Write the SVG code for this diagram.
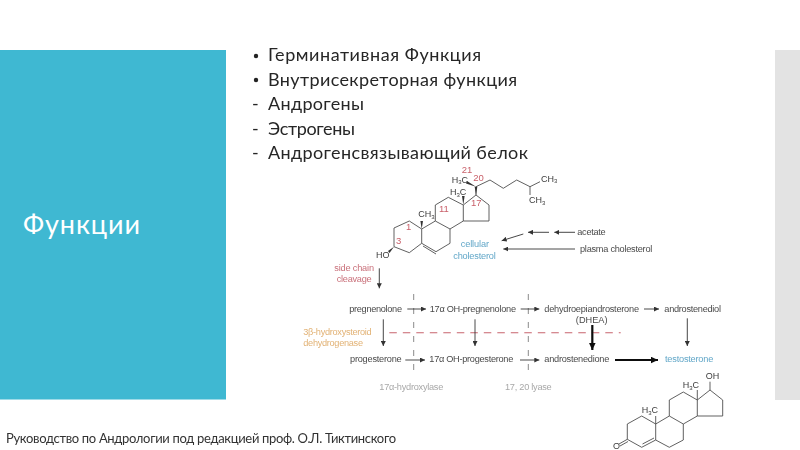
<svg xmlns="http://www.w3.org/2000/svg" width="800" height="450" viewBox="0 0 800 450">
<style>
.ru{font-family:"Lato","Open Sans","Noto Sans",sans-serif;fill:#262626;font-size:18px}
.t{font-family:"Liberation Sans",Arial,sans-serif;font-size:9.2px;fill:#4a4a4a}
.c{font-family:"Liberation Sans",Arial,sans-serif;font-size:9px;fill:#3c3c3c}
.r{font-family:"Liberation Sans",Arial,sans-serif;font-size:9.5px;fill:#c9606a}
.b{fill:#62a7c8}.o{fill:#e2b275}.g{fill:#a8a8a8}.p{fill:#c9707a}
.bond{fill:none;stroke:#4f4f4f;stroke-width:.9;stroke-linejoin:round}
.a{stroke:#333;stroke-width:.9;fill:none;marker-end:url(#ah)}
.A{stroke:#111;stroke-width:2.2;fill:none;marker-end:url(#AH)}
.vd{stroke:#8a8a8a;stroke-width:1;stroke-dasharray:6 8;fill:none}
</style>
<defs>
<marker id="ah" markerUnits="userSpaceOnUse" markerWidth="6" markerHeight="5" refX="5" refY="2.5" orient="auto"><path d="M0 0L5 2.500L0 5z" fill="#333"/></marker>
<marker id="AH" markerUnits="userSpaceOnUse" markerWidth="9" markerHeight="8" refX="7.500" refY="3.500" orient="auto"><path d="M0 0L7.500 3.500L0 7z" fill="#111"/></marker>
<filter id="soft" x="-5%" y="-5%" width="110%" height="110%"><feGaussianBlur stdDeviation=".35"/></filter>
</defs>
<rect width="800" height="450" fill="#fff"/>
<rect x="0" y="50" width="226" height="349.500" fill="#3fb8d2"/>
<rect x="775" y="50" width="25" height="350" fill="#e3e3e3"/>
<text x="23" y="234" textLength="117" style="font-family:Lato,'Open Sans',sans-serif;font-size:27px;fill:#fff">Функции</text>

<g id="bullets" filter="url(#soft)">
<circle cx="256" cy="56" r="2.200" fill="#222"/>
<text class="ru" x="268" y="61" textLength="213">Герминативная Функция</text>
<circle cx="256" cy="80" r="2.200" fill="#222"/>
<text class="ru" x="268" y="85.500" textLength="249">Внутрисекреторная функция</text>
<text class="ru" x="252" y="110">-</text>
<text class="ru" x="268" y="110" textLength="96">Андрогены</text>
<text class="ru" x="252" y="134.500">-</text>
<text class="ru" x="268" y="134.500" textLength="87">Эстрогены</text>
<text class="ru" x="252" y="158.500">-</text>
<text class="ru" x="268" y="158.500" textLength="260">Андрогенсвязывающий белок</text>
</g>

<g filter="url(#soft)">
<g id="cholesterol-molecule">
<path class="bond" d="M394 246.700V228L409.300 221L421.700 229V243.300L409.300 252.700Z"/>
<path class="bond" d="M421.700 229L435.300 221L450 229V243.300L436 251.700L421.700 243.300"/>
<path class="bond" d="M423 246L436 254"/>
<path class="bond" d="M435.300 221V205L448.300 197.300L463.300 205V221L450 229"/>
<path class="bond" d="M463.300 205L476 195L489 205V221H463.300"/>
<path class="bond" d="M476 195V186.700L490 180L503.300 188.300L516.700 180L530 186.700L540 181.700M530 186.700V195"/>
<path d="M476 186.700L467 181L466 183.500Z" fill="#333"/>
<path d="M476 195L474.700 186.700H477.300Z" fill="#333"/>
<path d="M463.300 205L462 196H464.600Z" fill="#333"/>
<path d="M421.700 229L420.400 221H423Z" fill="#333"/>
<path d="M394 246.700L388 251L389.500 253Z" fill="#333"/>
<text class="c" x="376" y="257.500">HO</text>
<text class="c" x="418.300" y="217.300">CH<tspan font-size="6" dy="1.500">3</tspan></text>
<text class="c" x="451.700" y="182.700">H<tspan font-size="6" dy="1.500">3</tspan><tspan dy="-1.500">C</tspan></text>
<text class="c" x="450" y="195">H<tspan font-size="6" dy="1.500">3</tspan><tspan dy="-1.500">C</tspan></text>
<text class="c" x="541" y="181.700">CH<tspan font-size="6" dy="1.500">3</tspan></text>
<text class="c" x="529" y="203.300">CH<tspan font-size="6" dy="1.500">3</tspan></text>
<text class="r" x="396" y="244.300">3</text>
<text class="r" x="406" y="230">1</text>
<text class="r" x="439" y="211.700">11</text>
<text class="r" x="471" y="206">17</text>
<text class="r" x="473.300" y="180.700">20</text>
<text class="r" x="461.700" y="172.700">21</text>
</g>

<g id="testosterone-molecule">
<path class="bond" d="M627.300 439.300V424L641.700 416L655.700 424V440L641.700 447.300Z"/>
<path class="bond" d="M655.700 424L669.300 416L683.300 424V440L669.300 447.300L655.700 440"/>
<path class="bond" d="M642.500 444L654 438"/>
<path class="bond" d="M669.300 416V400L683.300 392L697.300 400V416L683.300 424"/>
<path class="bond" d="M697.300 400L710 390L722.700 400V416H697.300"/>
<path class="bond" d="M710 390V381.700M697.300 400V390M655.700 424V416"/>
<path class="bond" d="M627.300 439.300L619 444M628 441.500L620 446"/>
<text class="c" x="705.700" y="379.300">OH</text>
<text class="c" x="682.700" y="388.300">H<tspan font-size="6" dy="1.500">3</tspan><tspan dy="-1.500">C</tspan></text>
<text class="c" x="641.700" y="413.300">H<tspan font-size="6" dy="1.500">3</tspan><tspan dy="-1.500">C</tspan></text>
<text class="c" x="613" y="448.500">O</text>
</g>

<g id="connectors">
<path class="vd" d="M413.700 294V376"/>
<path class="vd" d="M528.300 294V376"/>
<path d="M389.300 332.700H620.700" stroke="#c8646e" stroke-width="1.100" stroke-dasharray="7.500 6" fill="none"/>
<path class="a" d="M575 232.300H554.300"/>
<path class="a" d="M549 232.300H528"/>
<path class="a" d="M523.300 234L501.700 240.700"/>
<path class="a" d="M575 249H503.300"/>
<path class="a" d="M379.300 268.300V288.300"/>
<path class="a" d="M407.300 309H426"/>
<path class="a" d="M520.700 309H539.300"/>
<path class="a" d="M644 309H659"/>
<path class="a" d="M405.300 360H425"/>
<path class="a" d="M520 360H539.300"/>
<path class="A" d="M615 360H658"/>
<path class="a" d="M383.300 319.300V346"/>
<path class="a" d="M475 319.300V346"/>
<path class="A" d="M592.300 325V350"/>
<path class="a" d="M687.300 318.300V346"/>
</g>

<g id="acetate"><text class="t" x="577.300" y="235" textLength="28.400">acetate</text></g>
<g id="plasma-cholesterol"><text class="t" x="580" y="251.700" textLength="72.300">plasma cholesterol</text></g>
<g id="cellular-cholesterol"><text class="t b" x="460.700" y="247.300" textLength="28.300">cellular</text><text class="t b" x="453.300" y="259.300" textLength="42.400">cholesterol</text></g>
<g id="side-chain-cleavage"><text class="t p" x="334.300" y="270.700" textLength="39.700">side chain</text><text class="t p" x="336.700" y="281.700" textLength="35">cleavage</text></g>
<g id="pregnenolone"><text class="t" x="349.300" y="311.700" textLength="52.700">pregnenolone</text></g>
<g id="oh-pregnenolone"><text class="t" x="429.700" y="311.700" textLength="86.300">17α OH-pregnenolone</text></g>
<g id="dhea"><text class="t" x="544.300" y="311.700" textLength="94.700">dehydroepiandrosterone</text><text class="t" x="591.700" y="322.700" text-anchor="middle">(DHEA)</text></g>
<g id="androstenediol"><text class="t" x="664.300" y="311.700" textLength="56.700">androstenediol</text></g>
<g id="dehydrogenase"><text class="t o" x="303.300" y="335" textLength="68.400">3β-hydroxysteroid</text><text class="t o" x="303.300" y="345.700" textLength="59.700">dehydrogenase</text></g>
<g id="progesterone"><text class="t" x="350" y="361.700" textLength="51.700">progesterone</text></g>
<g id="oh-progesterone"><text class="t" x="429.300" y="361.700" textLength="84">17α OH-progesterone</text></g>
<g id="androstenedione"><text class="t" x="544.300" y="361.700" textLength="65">androstenedione</text></g>
<g id="testosterone"><text class="t b" x="665" y="361.700" textLength="48.300">testosterone</text></g>
<g id="hydroxylase"><text class="t g" x="379.300" y="390" textLength="64">17α-hydroxylase</text></g>
<g id="lyase"><text class="t g" x="505" y="390" textLength="46.700">17, 20 lyase</text></g>
</g>

<text x="6" y="443" filter="url(#soft)" textLength="390" style="font-family:Lato,'Open Sans',sans-serif;font-size:13px;fill:#333">Руководство по Андрологии под редакцией проф. О.Л. Тиктинского</text>
</svg>
